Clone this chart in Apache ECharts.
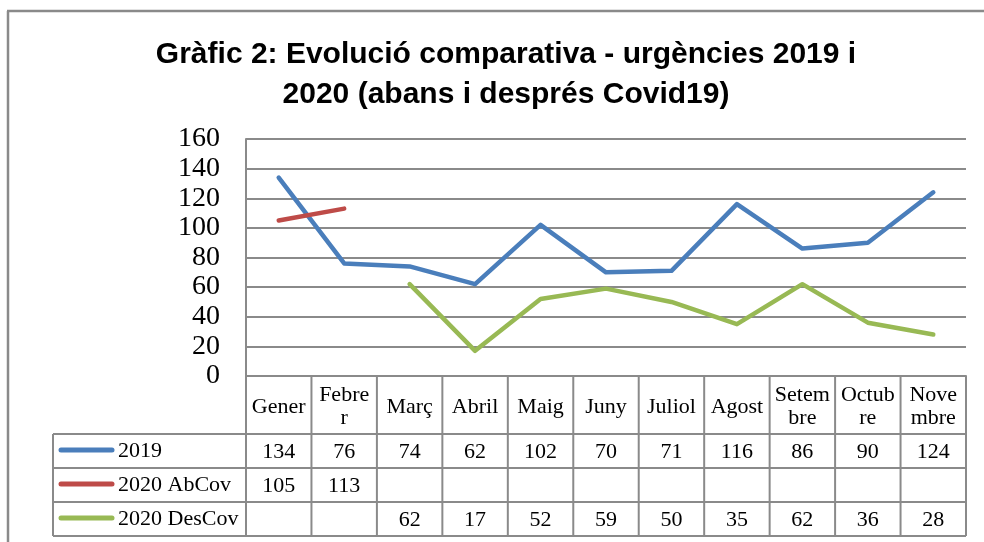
<!DOCTYPE html>
<html>
<head>
    <meta charset="utf-8"/>
    <script type="text/javascript" src="https://cdn.jsdelivr.net/npm/echarts@6/dist/echarts.min.js"></script>
    <style>
        html, body { margin: 0; padding: 0; background: #fff; }
        #main { width: 984px; height: 542px; }
    </style>
</head>
<body>
<div id="main"></div>
<script type="text/javascript">
    // dades del gràfic
    var categories = ['Gener', 'Febre\nr', 'Març', 'Abril', 'Maig', 'Juny', 'Juliol', 'Agost', 'Setem\nbre', 'Octub\nre', 'Nove\nmbre'];
    var seriesNames = ['2019', '2020 AbCov', '2020 DesCov'];
    var data2019 = [134, 76, 74, 62, 102, 70, 71, 116, 86, 90, 124];
    var dataAbCov = [105, 113, null, null, null, null, null, null, null, null, null];
    var dataDesCov = [null, null, 62, 17, 52, 59, 50, 35, 62, 36, 28];
    var colors = ['#4a7ebb', '#be4b48', '#98b954'];
    var yMin = 0, yMax = 160, yStep = 20;

    var serif = "'Liberation Serif', 'DejaVu Serif', serif";
    var gray = '#8a8a8a';

    var myChart = echarts.init(document.getElementById('main'));
    var allData = [data2019, dataAbCov, dataDesCov];

    var option = {
        animation: false,
        title: {
            text: 'Gràfic 2: Evolució comparativa - urgències 2019 i\n2020 (abans i després Covid19)',
            left: 501,
            top: 30,
            textAlign: 'center',
            textStyle: {
                fontFamily: "'Liberation Sans Narrow', 'Liberation Sans', sans-serif",
                fontWeight: 'bold',
                fontSize: 30,
                lineHeight: 40,
                color: '#000'
            }
        },
        grid: {
            left: 246,
            right: 18,
            top: 139,
            bottom: 166
        },
        xAxis: {
            type: 'category',
            data: categories,
            boundaryGap: true,
            axisLine: { show: true, lineStyle: { color: gray, width: 2 } },
            axisTick: { show: false },
            axisLabel: { show: false },
            splitLine: { show: false }
        },
        yAxis: {
            type: 'value',
            min: yMin,
            max: yMax,
            interval: yStep,
            axisLine: { show: true, lineStyle: { color: gray, width: 2 } },
            axisTick: { show: false },
            axisLabel: {
                fontFamily: serif,
                fontSize: 28,
                color: '#000',
                margin: 26
            },
            splitLine: { show: true, lineStyle: { color: gray, width: 2 } }
        },
        series: seriesNames.map(function (name, i) {
            return {
                name: name,
                type: 'line',
                data: allData[i],
                symbol: 'none',
                connectNulls: false,
                lineStyle: { color: colors[i], width: 4.5, cap: 'round', join: 'round' },
                z: 3
            };
        })
    };
    myChart.setOption(option);

    // taula de dades sota l'eix
    function buildTable() {
        var x0 = myChart.convertToPixel({ xAxisIndex: 0 }, 0);
        var x1 = myChart.convertToPixel({ xAxisIndex: 0 }, 1);
        var colW = x1 - x0;
        var left = x0 - colW / 2;
        var right = left + colW * categories.length;
        var top = myChart.convertToPixel({ yAxisIndex: 0 }, yMin);
        var headH = 58;
        var rowH = 34;
        var legendLeft = 53;
        var rowTop = top + headH;
        var bottom = rowTop + rowH * seriesNames.length;
        var els = [];
        var ls = { stroke: gray, lineWidth: 2 };

        // marc exterior
        els.push({ type: 'line', shape: { x1: 7, y1: 11, x2: 984, y2: 11 }, style: { stroke: gray, lineWidth: 2.5 } });
        els.push({ type: 'line', shape: { x1: 8, y1: 11, x2: 8, y2: 542 }, style: { stroke: gray, lineWidth: 2.5 } });

        // línies horitzontals
        els.push({ type: 'line', shape: { x1: left, y1: top, x2: right, y2: top }, style: ls });
        for (var r = 0; r <= seriesNames.length; r++) {
            var y = rowTop + r * rowH;
            els.push({ type: 'line', shape: { x1: legendLeft, y1: y, x2: right, y2: y }, style: ls });
        }
        // línies verticals
        for (var c = 0; c <= categories.length; c++) {
            var x = left + c * colW;
            els.push({ type: 'line', shape: { x1: x, y1: top, x2: x, y2: bottom }, style: ls });
        }
        els.push({ type: 'line', shape: { x1: legendLeft, y1: rowTop, x2: legendLeft, y2: bottom }, style: ls });

        // capçalera de mesos
        categories.forEach(function (cat, i) {
            els.push({
                type: 'text',
                x: left + (i + 0.5) * colW,
                y: top + headH / 2 + 2,
                style: {
                    text: cat,
                    fontFamily: serif,
                    fontSize: 22,
                    lineHeight: 23,
                    fill: '#000',
                    align: 'center',
                    verticalAlign: 'middle'
                }
            });
        });

        // files de sèries
        seriesNames.forEach(function (name, r) {
            var cy = rowTop + (r + 0.5) * rowH;
            els.push({
                type: 'line',
                shape: { x1: 61, y1: cy - 1, x2: 112, y2: cy - 1 },
                style: { stroke: colors[r], lineWidth: 5, lineCap: 'round' }
            });
            els.push({
                type: 'text', x: 118, y: cy,
                style: { text: name, fontFamily: serif, fontSize: 22, fill: '#000', align: 'left', verticalAlign: 'middle' }
            });
            allData[r].forEach(function (v, i) {
                if (v == null) return;
                els.push({
                    type: 'text', x: left + (i + 0.5) * colW, y: cy + 1,
                    style: { text: String(v), fontFamily: serif, fontSize: 22, fill: '#000', align: 'center', verticalAlign: 'middle' }
                });
            });
        });

        myChart.setOption({ graphic: { elements: els } });
    }
    buildTable();
</script>
</body>
</html>
